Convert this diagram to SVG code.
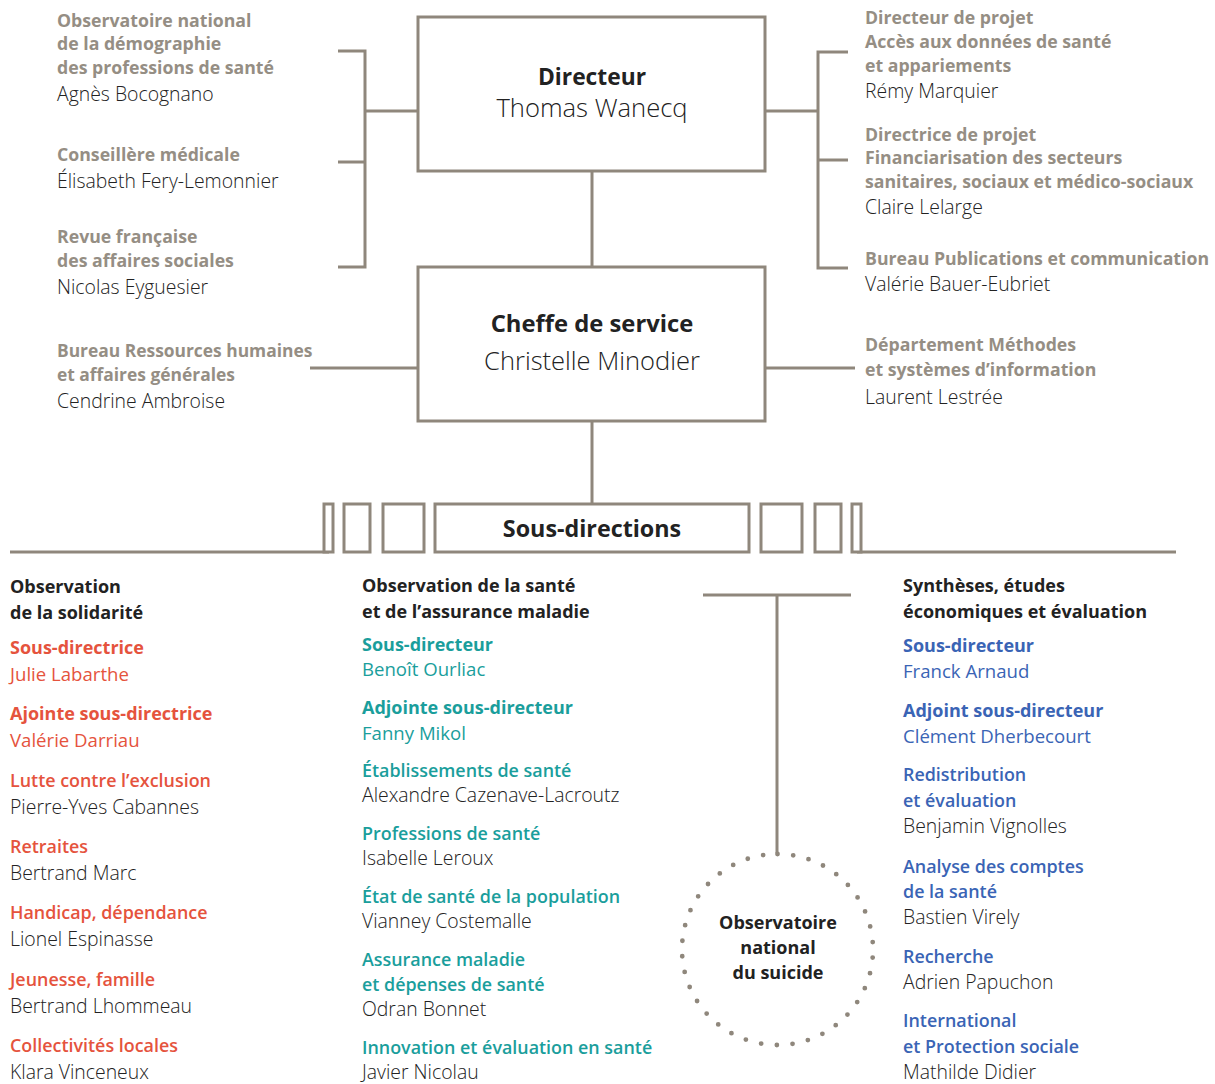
<svg xmlns="http://www.w3.org/2000/svg" width="1215" height="1084" viewBox="0 0 1215 1084">
<style>
text{font-family:"Open Sans","Liberation Sans",sans-serif;font-size:19.4px;fill:#222;font-weight:300}
.b{font-weight:700}
.g{fill:#958e84;font-weight:700;font-size:17.7px}
.h{fill:#222;font-weight:700;font-size:18px}
.m{font-weight:600;font-size:17.9px}
.bb{font-weight:700;font-size:18px}
.r{fill:#e5533d}
.t{fill:#1a9e9c}
.u{fill:#3a64b5}
.k{font-weight:400}
.box{fill:#fff;stroke:#8f877c;stroke-width:3}
.ln{fill:none;stroke:#8f877c;stroke-width:3}
.c{text-anchor:middle}
</style>
<g id="connectors">
<path class="ln" d="M338 51H365V267H338M338 162H365M365 111H418"/>
<path class="ln" d="M848 52H818V268H848M818 160H848M765 111H818"/>
<path class="ln" d="M592 171V267M592 421V504"/>
<path class="ln" d="M310 368H418M765 368H855"/>
<path class="ln" d="M10 552H329M857 552H1176"/>
<path class="ln" d="M703 595H851M777 595V853"/>
</g>
<g id="directeur">
<rect class="box" x="418" y="17" width="347" height="154"/>
<text class="b c" x="592" y="85" style="font-size:22.8px">Directeur</text>
<text class="c" x="592" y="117" style="font-size:25.6px">Thomas Wanecq</text>
</g>
<g id="cheffe">
<rect class="box" x="418" y="267" width="347" height="154"/>
<text class="b c" x="592" y="332" style="font-size:23.8px">Cheffe de service</text>
<text class="c" x="592" y="370" style="font-size:25.5px">Christelle Minodier</text>
</g>
<g id="sous-directions">
<rect class="box" x="324" y="504" width="9" height="48"/>
<rect class="box" x="344" y="504" width="26" height="48"/>
<rect class="box" x="383" y="504" width="41" height="48"/>
<rect class="box" x="435" y="504" width="314" height="48"/>
<rect class="box" x="761" y="504" width="41" height="48"/>
<rect class="box" x="815" y="504" width="26" height="48"/>
<rect class="box" x="852" y="504" width="9" height="48"/>
<text class="b c" x="592" y="537" style="font-size:23.3px">Sous-directions</text>
</g>
<g id="ondps">
<text class="g" x="57" y="27">Observatoire national</text>
<text class="g" x="57" y="50">de la démographie</text>
<text class="g" x="57" y="74">des professions de santé</text>
<text x="57" y="101">Agnès Bocognano</text>
</g>
<g id="conseillere">
<text class="g" x="57" y="161">Conseillère médicale</text>
<text x="57" y="188">Élisabeth Fery-Lemonnier</text>
</g>
<g id="revue">
<text class="g" x="57" y="243">Revue française</text>
<text class="g" x="57" y="267">des affaires sociales</text>
<text x="57" y="294">Nicolas Eyguesier</text>
</g>
<g id="rh">
<text class="g" x="57" y="357" style="font-size:17.4px">Bureau Ressources humaines</text>
<text class="g" x="57" y="381" style="font-size:17.4px">et affaires générales</text>
<text x="57" y="408">Cendrine Ambroise</text>
</g>
<g id="projet-donnees">
<text class="g" x="865" y="24">Directeur de projet</text>
<text class="g" x="865" y="48">Accès aux données de santé</text>
<text class="g" x="865" y="72">et appariements</text>
<text x="865" y="98">Rémy Marquier</text>
</g>
<g id="projet-financiarisation">
<text class="g" x="865" y="141">Directrice de projet</text>
<text class="g" x="865" y="164">Financiarisation des secteurs</text>
<text class="g" x="865" y="188">sanitaires, sociaux et médico-sociaux</text>
<text x="865" y="214">Claire Lelarge</text>
</g>
<g id="publications">
<text class="g" x="865" y="265">Bureau Publications et communication</text>
<text x="865" y="291">Valérie Bauer-Eubriet</text>
</g>
<g id="methodes">
<text class="g" x="865" y="351">Département Méthodes</text>
<text class="g" x="865" y="376">et systèmes d’information</text>
<text x="865" y="404">Laurent Lestrée</text>
</g>
<g id="solidarite">
<text class="h" x="10" y="593">Observation</text>
<text class="h" x="10" y="619">de la solidarité</text>
<text class="r bb" x="10" y="654">Sous-directrice</text>
<text class="r k" x="10" y="681" style="font-size:18.6px">Julie Labarthe</text>
<text class="r bb" x="10" y="720">Ajointe sous-directrice</text>
<text class="r k" x="10" y="747" style="font-size:18.6px">Valérie Darriau</text>
<text class="r m" x="10" y="787">Lutte contre l’exclusion</text>
<text x="10" y="814">Pierre-Yves Cabannes</text>
<text class="r m" x="10" y="853">Retraites</text>
<text x="10" y="880">Bertrand Marc</text>
<text class="r m" x="10" y="919">Handicap, dépendance</text>
<text x="10" y="946">Lionel Espinasse</text>
<text class="r m" x="10" y="986">Jeunesse, famille</text>
<text x="10" y="1013">Bertrand Lhommeau</text>
<text class="r m" x="10" y="1052">Collectivités locales</text>
<text x="10" y="1079">Klara Vinceneux</text>
</g>
<g id="sante">
<text class="h" x="362" y="592">Observation de la santé</text>
<text class="h" x="362" y="618">et de l’assurance maladie</text>
<text class="t bb" x="362" y="651">Sous-directeur</text>
<text class="t k" x="362" y="676" style="font-size:18.6px">Benoît Ourliac</text>
<text class="t bb" x="362" y="714">Adjointe sous-directeur</text>
<text class="t k" x="362" y="740" style="font-size:18.6px">Fanny Mikol</text>
<text class="t m" x="362" y="777">Établissements de santé</text>
<text x="362" y="802">Alexandre Cazenave-Lacroutz</text>
<text class="t m" x="362" y="840">Professions de santé</text>
<text x="362" y="865">Isabelle Leroux</text>
<text class="t m" x="362" y="903">État de santé de la population</text>
<text x="362" y="928">Vianney Costemalle</text>
<text class="t m" x="362" y="966">Assurance maladie</text>
<text class="t m" x="362" y="991">et dépenses de santé</text>
<text x="362" y="1016">Odran Bonnet</text>
<text class="t m" x="362" y="1054">Innovation et évaluation en santé</text>
<text x="362" y="1079">Javier Nicolau</text>
</g>
<g id="syntheses">
<text class="h" x="903" y="592">Synthèses, études</text>
<text class="h" x="903" y="618">économiques et évaluation</text>
<text class="u bb" x="903" y="652">Sous-directeur</text>
<text class="u k" x="903" y="678" style="font-size:18.6px">Franck Arnaud</text>
<text class="u bb" x="903" y="717">Adjoint sous-directeur</text>
<text class="u k" x="903" y="743" style="font-size:18.6px">Clément Dherbecourt</text>
<text class="u m" x="903" y="781">Redistribution</text>
<text class="u m" x="903" y="807">et évaluation</text>
<text x="903" y="833">Benjamin Vignolles</text>
<text class="u m" x="903" y="873">Analyse des comptes</text>
<text class="u m" x="903" y="898">de la santé</text>
<text x="903" y="924">Bastien Virely</text>
<text class="u m" x="903" y="963">Recherche</text>
<text x="903" y="989">Adrien Papuchon</text>
<text class="u m" x="903" y="1027">International</text>
<text class="u m" x="903" y="1053">et Protection sociale</text>
<text x="903" y="1079">Mathilde Didier</text>
</g>
<g id="onsuicide">
<circle cx="777.5" cy="949.5" r="95.5" fill="none" stroke="#8f877c" stroke-width="4.8" stroke-linecap="round" stroke-dasharray="0 15.8" transform="rotate(-90 777.5 949.5)"/>
<text class="h c" x="778" y="929">Observatoire</text>
<text class="h c" x="778" y="954">national</text>
<text class="h c" x="778" y="979">du suicide</text>
</g>
</svg>
